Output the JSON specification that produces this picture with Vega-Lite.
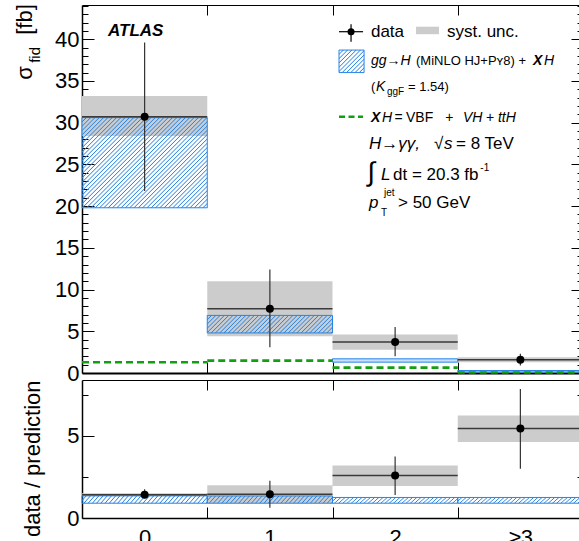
{
  "$schema": "https://vega.github.io/schema/vega-lite/v6.json",
  "background": "white",
  "padding": {"left": 14, "top": 4, "right": 0, "bottom": 0},
  "config": {"view": {"stroke": null}, "font": "Liberation Sans"},
  "bounds": "flush",
  "spacing": 7,
  "datasets": {
    "top": [
      {"bin": 0, "lo": -0.5, "hi": 0.5, "val": 30.7, "elo": 21.8, "ehi": 39.6, "slo": 28.4, "shi": 33.2, "plo": 19.8, "phi": 30.6, "xh": 1.28},
      {"bin": 1, "lo": 0.5, "hi": 1.5, "val": 7.7, "elo": 3.1, "ehi": 12.4, "slo": 4.4, "shi": 11.0, "plo": 4.8, "phi": 6.9, "xh": 1.48},
      {"bin": 2, "lo": 1.5, "hi": 2.5, "val": 3.7, "elo": 2.0, "ehi": 5.5, "slo": 2.8, "shi": 4.6, "plo": 1.3, "phi": 1.7, "xh": 0.64},
      {"bin": 3, "lo": 2.5, "hi": 3.5, "val": 1.6, "elo": 0.9, "ehi": 2.3, "slo": 1.3, "shi": 1.9, "plo": 0.12, "phi": 0.3, "xh": 0.06}
    ],
    "ratio": [
      {"bin": 0, "lo": -0.5, "hi": 0.5, "val": 1.42, "elo": 1.2, "ehi": 1.75, "slo": 1.32, "shi": 1.5, "plo": 0.9, "phi": 1.35},
      {"bin": 1, "lo": 0.5, "hi": 1.5, "val": 1.44, "elo": 0.63, "ehi": 2.26, "slo": 0.9, "shi": 2.0, "plo": 0.9, "phi": 1.34},
      {"bin": 2, "lo": 1.5, "hi": 2.5, "val": 2.58, "elo": 1.4, "ehi": 3.74, "slo": 1.95, "shi": 3.19, "plo": 0.9, "phi": 1.25},
      {"bin": 3, "lo": 2.5, "hi": 3.5, "val": 5.45, "elo": 3.0, "ehi": 7.85, "slo": 4.62, "shi": 6.24, "plo": 0.9, "phi": 1.25}
    ]
  },
  "vconcat": [
    {
      "width": 501,
      "height": 368,
      "resolve": {"axis": {"x": "independent", "y": "independent"}},
      "layer": [
        {
          "data": {"name": "top"},
          "mark": {"type": "rect", "color": "#cccccc"},
          "encoding": {
            "x": {"field": "lo", "type": "quantitative", "scale": {"domain": [-0.5, 3.5], "nice": false, "zero": false},
              "axis": {"orient": "bottom", "values": [0.5, 1.5, 2.5], "tickSize": -11, "labels": false, "title": null, "grid": false, "domainColor": "black", "domainWidth": 2, "tickColor": "black", "tickWidth": 1}},
            "x2": {"field": "hi"},
            "y": {"field": "slo", "type": "quantitative", "scale": {"domain": [0, 44.1], "nice": false, "zero": false},
              "axis": {"orient": "left", "values": [0,1,2,3,4,5,6,7,8,9,10,11,12,13,14,15,16,17,18,19,20,21,22,23,24,25,26,27,28,29,30,31,32,33,34,35,36,37,38,39,40,41,42,43,44],
                "tickSize": {"condition": {"test": "datum.value % 5 === 0", "value": -12}, "value": -6},
                "labelFontSize": {"condition": {"test": "datum.value % 5 === 0", "value": 22}, "value": 0},
                "labelExpr": "datum.value % 5 === 0 ? '' + datum.value : ''", "labelOverlap": false, "labelPadding": 15,
                "labelColor": "black", "labelFont": "Liberation Sans", "title": null, "grid": false,
                "domainColor": "black", "domainWidth": 1.5, "tickColor": "black", "tickWidth": 1}},
            "y2": {"field": "shi"}
          }
        },
        {
          "data": {"name": "top"},
          "transform": [{"filter": "datum.bin === 0"}],
          "mark": {"type": "rect", "strokeWidth": 0, "fill": {"gradient": "linear", "x1": 0, "y1": 0, "x2": 1.1331, "y2": 0.8151, "stops": [
            {"offset":0,"color":"#2684e6"},{"offset":0.005,"color":"rgba(38,132,230,0)"},{"offset":0.015,"color":"rgba(38,132,230,0)"},
            {"offset":0.02,"color":"#2684e6"},{"offset":0.025,"color":"rgba(38,132,230,0)"},{"offset":0.035,"color":"rgba(38,132,230,0)"},
            {"offset":0.04,"color":"#2684e6"},{"offset":0.045,"color":"rgba(38,132,230,0)"},{"offset":0.055,"color":"rgba(38,132,230,0)"},
            {"offset":0.06,"color":"#2684e6"},{"offset":0.065,"color":"rgba(38,132,230,0)"},{"offset":0.075,"color":"rgba(38,132,230,0)"},
            {"offset":0.08,"color":"#2684e6"},{"offset":0.085,"color":"rgba(38,132,230,0)"},{"offset":0.095,"color":"rgba(38,132,230,0)"},
            {"offset":0.1,"color":"#2684e6"},{"offset":0.105,"color":"rgba(38,132,230,0)"},{"offset":0.115,"color":"rgba(38,132,230,0)"},
            {"offset":0.12,"color":"#2684e6"},{"offset":0.125,"color":"rgba(38,132,230,0)"},{"offset":0.135,"color":"rgba(38,132,230,0)"},
            {"offset":0.14,"color":"#2684e6"},{"offset":0.145,"color":"rgba(38,132,230,0)"},{"offset":0.155,"color":"rgba(38,132,230,0)"},
            {"offset":0.16,"color":"#2684e6"},{"offset":0.165,"color":"rgba(38,132,230,0)"},{"offset":0.175,"color":"rgba(38,132,230,0)"},
            {"offset":0.18,"color":"#2684e6"},{"offset":0.185,"color":"rgba(38,132,230,0)"},{"offset":0.195,"color":"rgba(38,132,230,0)"},
            {"offset":0.2,"color":"#2684e6"},{"offset":0.205,"color":"rgba(38,132,230,0)"},{"offset":0.215,"color":"rgba(38,132,230,0)"},
            {"offset":0.22,"color":"#2684e6"},{"offset":0.225,"color":"rgba(38,132,230,0)"},{"offset":0.235,"color":"rgba(38,132,230,0)"},
            {"offset":0.24,"color":"#2684e6"},{"offset":0.245,"color":"rgba(38,132,230,0)"},{"offset":0.255,"color":"rgba(38,132,230,0)"},
            {"offset":0.26,"color":"#2684e6"},{"offset":0.265,"color":"rgba(38,132,230,0)"},{"offset":0.275,"color":"rgba(38,132,230,0)"},
            {"offset":0.28,"color":"#2684e6"},{"offset":0.285,"color":"rgba(38,132,230,0)"},{"offset":0.295,"color":"rgba(38,132,230,0)"},
            {"offset":0.3,"color":"#2684e6"},{"offset":0.305,"color":"rgba(38,132,230,0)"},{"offset":0.315,"color":"rgba(38,132,230,0)"},
            {"offset":0.32,"color":"#2684e6"},{"offset":0.325,"color":"rgba(38,132,230,0)"},{"offset":0.335,"color":"rgba(38,132,230,0)"},
            {"offset":0.34,"color":"#2684e6"},{"offset":0.345,"color":"rgba(38,132,230,0)"},{"offset":0.355,"color":"rgba(38,132,230,0)"},
            {"offset":0.36,"color":"#2684e6"},{"offset":0.365,"color":"rgba(38,132,230,0)"},{"offset":0.375,"color":"rgba(38,132,230,0)"},
            {"offset":0.38,"color":"#2684e6"},{"offset":0.385,"color":"rgba(38,132,230,0)"},{"offset":0.395,"color":"rgba(38,132,230,0)"},
            {"offset":0.4,"color":"#2684e6"},{"offset":0.405,"color":"rgba(38,132,230,0)"},{"offset":0.415,"color":"rgba(38,132,230,0)"},
            {"offset":0.42,"color":"#2684e6"},{"offset":0.425,"color":"rgba(38,132,230,0)"},{"offset":0.435,"color":"rgba(38,132,230,0)"},
            {"offset":0.44,"color":"#2684e6"},{"offset":0.445,"color":"rgba(38,132,230,0)"},{"offset":0.455,"color":"rgba(38,132,230,0)"},
            {"offset":0.46,"color":"#2684e6"},{"offset":0.465,"color":"rgba(38,132,230,0)"},{"offset":0.475,"color":"rgba(38,132,230,0)"},
            {"offset":0.48,"color":"#2684e6"},{"offset":0.485,"color":"rgba(38,132,230,0)"},{"offset":0.495,"color":"rgba(38,132,230,0)"},
            {"offset":0.5,"color":"#2684e6"},{"offset":0.505,"color":"rgba(38,132,230,0)"},{"offset":0.515,"color":"rgba(38,132,230,0)"},
            {"offset":0.52,"color":"#2684e6"},{"offset":0.525,"color":"rgba(38,132,230,0)"},{"offset":0.535,"color":"rgba(38,132,230,0)"},
            {"offset":0.54,"color":"#2684e6"},{"offset":0.545,"color":"rgba(38,132,230,0)"},{"offset":0.555,"color":"rgba(38,132,230,0)"},
            {"offset":0.56,"color":"#2684e6"},{"offset":0.565,"color":"rgba(38,132,230,0)"},{"offset":0.575,"color":"rgba(38,132,230,0)"},
            {"offset":0.58,"color":"#2684e6"},{"offset":0.585,"color":"rgba(38,132,230,0)"},{"offset":0.595,"color":"rgba(38,132,230,0)"},
            {"offset":0.6,"color":"#2684e6"},{"offset":0.605,"color":"rgba(38,132,230,0)"},{"offset":0.615,"color":"rgba(38,132,230,0)"},
            {"offset":0.62,"color":"#2684e6"},{"offset":0.625,"color":"rgba(38,132,230,0)"},{"offset":0.635,"color":"rgba(38,132,230,0)"},
            {"offset":0.64,"color":"#2684e6"},{"offset":0.645,"color":"rgba(38,132,230,0)"},{"offset":0.655,"color":"rgba(38,132,230,0)"},
            {"offset":0.66,"color":"#2684e6"},{"offset":0.665,"color":"rgba(38,132,230,0)"},{"offset":0.675,"color":"rgba(38,132,230,0)"},
            {"offset":0.68,"color":"#2684e6"},{"offset":0.685,"color":"rgba(38,132,230,0)"},{"offset":0.695,"color":"rgba(38,132,230,0)"},
            {"offset":0.7,"color":"#2684e6"},{"offset":0.705,"color":"rgba(38,132,230,0)"},{"offset":0.715,"color":"rgba(38,132,230,0)"},
            {"offset":0.72,"color":"#2684e6"},{"offset":0.725,"color":"rgba(38,132,230,0)"},{"offset":0.735,"color":"rgba(38,132,230,0)"},
            {"offset":0.74,"color":"#2684e6"},{"offset":0.745,"color":"rgba(38,132,230,0)"},{"offset":0.755,"color":"rgba(38,132,230,0)"},
            {"offset":0.76,"color":"#2684e6"},{"offset":0.765,"color":"rgba(38,132,230,0)"},{"offset":0.775,"color":"rgba(38,132,230,0)"},
            {"offset":0.78,"color":"#2684e6"},{"offset":0.785,"color":"rgba(38,132,230,0)"},{"offset":0.795,"color":"rgba(38,132,230,0)"},
            {"offset":0.8,"color":"#2684e6"},{"offset":0.805,"color":"rgba(38,132,230,0)"},{"offset":0.815,"color":"rgba(38,132,230,0)"},
            {"offset":0.82,"color":"#2684e6"},{"offset":0.825,"color":"rgba(38,132,230,0)"},{"offset":0.835,"color":"rgba(38,132,230,0)"},
            {"offset":0.84,"color":"#2684e6"},{"offset":0.845,"color":"rgba(38,132,230,0)"},{"offset":0.855,"color":"rgba(38,132,230,0)"},
            {"offset":0.86,"color":"#2684e6"},{"offset":0.865,"color":"rgba(38,132,230,0)"},{"offset":0.875,"color":"rgba(38,132,230,0)"},
            {"offset":0.88,"color":"#2684e6"},{"offset":0.885,"color":"rgba(38,132,230,0)"},{"offset":0.895,"color":"rgba(38,132,230,0)"},
            {"offset":0.9,"color":"#2684e6"},{"offset":0.905,"color":"rgba(38,132,230,0)"},{"offset":0.915,"color":"rgba(38,132,230,0)"},
            {"offset":0.92,"color":"#2684e6"},{"offset":0.925,"color":"rgba(38,132,230,0)"},{"offset":0.935,"color":"rgba(38,132,230,0)"},
            {"offset":0.94,"color":"#2684e6"},{"offset":0.945,"color":"rgba(38,132,230,0)"},{"offset":0.955,"color":"rgba(38,132,230,0)"},
            {"offset":0.96,"color":"#2684e6"},{"offset":0.965,"color":"rgba(38,132,230,0)"},{"offset":0.975,"color":"rgba(38,132,230,0)"},
            {"offset":0.98,"color":"#2684e6"},{"offset":0.985,"color":"rgba(38,132,230,0)"},{"offset":0.995,"color":"rgba(38,132,230,0)"},
            {"offset":1,"color":"#2684e6"}]}},
          "encoding": {
            "x": {"field": "lo", "type": "quantitative", "scale": {"domain": [-0.5, 3.5], "nice": false, "zero": false},
              "axis": {"orient": "top", "values": [0.5, 1.5, 2.5], "tickSize": -10, "labels": false, "title": null, "grid": false, "domainColor": "black", "domainWidth": 1, "tickColor": "black"}},
            "x2": {"field": "hi"},
            "y": {"field": "plo", "type": "quantitative", "scale": {"domain": [0, 44.1], "nice": false, "zero": false},
              "axis": {"orient": "right", "values": [0,1,2,3,4,5,6,7,8,9,10,11,12,13,14,15,16,17,18,19,20,21,22,23,24,25,26,27,28,29,30,31,32,33,34,35,36,37,38,39,40,41,42,43,44],
                "tickSize": {"condition": {"test": "datum.value % 5 === 0", "value": -12}, "value": -6},
                "labels": false, "title": null, "grid": false, "domain": false, "tickColor": "black"}},
            "y2": {"field": "phi"}
          }
        },
        {
          "data": {"name": "top"},
          "transform": [{"filter": "datum.bin === 1"}],
          "mark": {"type": "rect", "strokeWidth": 0, "fill": {"gradient": "linear", "x1": 0, "y1": 0, "x2": 1.1179, "y2": 0.1562, "stops": [
            {"offset":0,"color":"#2684e6"},{"offset":0.0075,"color":"rgba(38,132,230,0)"},{"offset":0.0225,"color":"rgba(38,132,230,0)"},
            {"offset":0.03,"color":"#2684e6"},{"offset":0.0375,"color":"rgba(38,132,230,0)"},{"offset":0.0525,"color":"rgba(38,132,230,0)"},
            {"offset":0.06,"color":"#2684e6"},{"offset":0.0675,"color":"rgba(38,132,230,0)"},{"offset":0.0825,"color":"rgba(38,132,230,0)"},
            {"offset":0.09,"color":"#2684e6"},{"offset":0.0975,"color":"rgba(38,132,230,0)"},{"offset":0.1125,"color":"rgba(38,132,230,0)"},
            {"offset":0.12,"color":"#2684e6"},{"offset":0.1275,"color":"rgba(38,132,230,0)"},{"offset":0.1425,"color":"rgba(38,132,230,0)"},
            {"offset":0.15,"color":"#2684e6"},{"offset":0.1575,"color":"rgba(38,132,230,0)"},{"offset":0.1725,"color":"rgba(38,132,230,0)"},
            {"offset":0.18,"color":"#2684e6"},{"offset":0.1875,"color":"rgba(38,132,230,0)"},{"offset":0.2025,"color":"rgba(38,132,230,0)"},
            {"offset":0.21,"color":"#2684e6"},{"offset":0.2175,"color":"rgba(38,132,230,0)"},{"offset":0.2325,"color":"rgba(38,132,230,0)"},
            {"offset":0.24,"color":"#2684e6"},{"offset":0.2475,"color":"rgba(38,132,230,0)"},{"offset":0.2625,"color":"rgba(38,132,230,0)"},
            {"offset":0.27,"color":"#2684e6"},{"offset":0.2775,"color":"rgba(38,132,230,0)"},{"offset":0.2925,"color":"rgba(38,132,230,0)"},
            {"offset":0.3,"color":"#2684e6"},{"offset":0.3075,"color":"rgba(38,132,230,0)"},{"offset":0.3225,"color":"rgba(38,132,230,0)"},
            {"offset":0.33,"color":"#2684e6"},{"offset":0.3375,"color":"rgba(38,132,230,0)"},{"offset":0.3525,"color":"rgba(38,132,230,0)"},
            {"offset":0.36,"color":"#2684e6"},{"offset":0.3675,"color":"rgba(38,132,230,0)"},{"offset":0.3825,"color":"rgba(38,132,230,0)"},
            {"offset":0.39,"color":"#2684e6"},{"offset":0.3975,"color":"rgba(38,132,230,0)"},{"offset":0.4125,"color":"rgba(38,132,230,0)"},
            {"offset":0.42,"color":"#2684e6"},{"offset":0.4275,"color":"rgba(38,132,230,0)"},{"offset":0.4425,"color":"rgba(38,132,230,0)"},
            {"offset":0.45,"color":"#2684e6"},{"offset":0.4575,"color":"rgba(38,132,230,0)"},{"offset":0.4725,"color":"rgba(38,132,230,0)"},
            {"offset":0.48,"color":"#2684e6"},{"offset":0.4875,"color":"rgba(38,132,230,0)"},{"offset":0.5025,"color":"rgba(38,132,230,0)"},
            {"offset":0.51,"color":"#2684e6"},{"offset":0.5175,"color":"rgba(38,132,230,0)"},{"offset":0.5325,"color":"rgba(38,132,230,0)"},
            {"offset":0.54,"color":"#2684e6"},{"offset":0.5475,"color":"rgba(38,132,230,0)"},{"offset":0.5625,"color":"rgba(38,132,230,0)"},
            {"offset":0.57,"color":"#2684e6"},{"offset":0.5775,"color":"rgba(38,132,230,0)"},{"offset":0.5925,"color":"rgba(38,132,230,0)"},
            {"offset":0.6,"color":"#2684e6"},{"offset":0.6075,"color":"rgba(38,132,230,0)"},{"offset":0.6225,"color":"rgba(38,132,230,0)"},
            {"offset":0.63,"color":"#2684e6"},{"offset":0.6375,"color":"rgba(38,132,230,0)"},{"offset":0.6525,"color":"rgba(38,132,230,0)"},
            {"offset":0.66,"color":"#2684e6"},{"offset":0.6675,"color":"rgba(38,132,230,0)"},{"offset":0.6825,"color":"rgba(38,132,230,0)"},
            {"offset":0.69,"color":"#2684e6"},{"offset":0.6975,"color":"rgba(38,132,230,0)"},{"offset":0.7125,"color":"rgba(38,132,230,0)"},
            {"offset":0.72,"color":"#2684e6"},{"offset":0.7275,"color":"rgba(38,132,230,0)"},{"offset":0.7425,"color":"rgba(38,132,230,0)"},
            {"offset":0.75,"color":"#2684e6"},{"offset":0.7575,"color":"rgba(38,132,230,0)"},{"offset":0.7725,"color":"rgba(38,132,230,0)"},
            {"offset":0.78,"color":"#2684e6"},{"offset":0.7875,"color":"rgba(38,132,230,0)"},{"offset":0.8025,"color":"rgba(38,132,230,0)"},
            {"offset":0.81,"color":"#2684e6"},{"offset":0.8175,"color":"rgba(38,132,230,0)"},{"offset":0.8325,"color":"rgba(38,132,230,0)"},
            {"offset":0.84,"color":"#2684e6"},{"offset":0.8475,"color":"rgba(38,132,230,0)"},{"offset":0.8625,"color":"rgba(38,132,230,0)"},
            {"offset":0.87,"color":"#2684e6"},{"offset":0.8775,"color":"rgba(38,132,230,0)"},{"offset":0.8925,"color":"rgba(38,132,230,0)"},
            {"offset":0.9,"color":"#2684e6"},{"offset":0.9075,"color":"rgba(38,132,230,0)"},{"offset":0.9225,"color":"rgba(38,132,230,0)"},
            {"offset":0.93,"color":"#2684e6"},{"offset":0.9375,"color":"rgba(38,132,230,0)"},{"offset":0.9525,"color":"rgba(38,132,230,0)"},
            {"offset":0.96,"color":"#2684e6"},{"offset":0.9675,"color":"rgba(38,132,230,0)"},{"offset":0.9825,"color":"rgba(38,132,230,0)"},
            {"offset":0.99,"color":"#2684e6"},{"offset":0.9975,"color":"rgba(38,132,230,0)"}]}},
          "encoding": {
            "x": {"field": "lo", "type": "quantitative", "axis": null},
            "x2": {"field": "hi"},
            "y": {"field": "plo", "type": "quantitative", "axis": null},
            "y2": {"field": "phi"}
          }
        },
        {
          "data": {"name": "top"},
          "transform": [{"filter": "datum.bin >= 2"}],
          "mark": {"type": "rect", "fill": "#2684e6", "fillOpacity": 0.25, "strokeWidth": 0},
          "encoding": {
            "x": {"field": "lo", "type": "quantitative", "axis": null},
            "x2": {"field": "hi"},
            "y": {"field": "plo", "type": "quantitative", "axis": null},
            "y2": {"field": "phi"}
          }
        },
        {
          "data": {"name": "top"},
          "mark": {"type": "rect", "fill": null, "stroke": "#2684e6", "strokeWidth": 1},
          "encoding": {
            "x": {"field": "lo", "type": "quantitative", "axis": null},
            "x2": {"field": "hi"},
            "y": {"field": "plo", "type": "quantitative", "axis": null},
            "y2": {"field": "phi"}
          }
        },
        {
          "data": {"name": "top"},
          "mark": {"type": "rule", "color": "#12a012", "strokeWidth": 2.6, "strokeDash": [7, 4]},
          "encoding": {
            "x": {"field": "lo", "type": "quantitative", "axis": null},
            "x2": {"field": "hi"},
            "y": {"field": "xh", "type": "quantitative", "axis": null}
          }
        },
        {
          "data": {"name": "top"},
          "mark": {"type": "rule", "color": "#3a3a3a", "strokeWidth": 1.5},
          "encoding": {
            "x": {"field": "lo", "type": "quantitative", "axis": null},
            "x2": {"field": "hi"},
            "y": {"field": "val", "type": "quantitative", "axis": null}
          }
        },
        {
          "data": {"name": "top"},
          "mark": {"type": "rule", "color": "#333333", "strokeWidth": 1.2},
          "encoding": {
            "x": {"field": "bin", "type": "quantitative", "axis": null},
            "y": {"field": "elo", "type": "quantitative", "axis": null},
            "y2": {"field": "ehi"}
          }
        },
        {
          "data": {"name": "top"},
          "mark": {"type": "point", "filled": true, "color": "black", "size": 64, "opacity": 1},
          "encoding": {
            "x": {"field": "bin", "type": "quantitative", "axis": null},
            "y": {"field": "val", "type": "quantitative", "axis": null}
          }
        },
        {
          "data": {"values": [{"x": 2.167, "x2": 2.35, "y": 40.6, "y2": 41.5}]},
          "mark": {"type": "rect", "color": "#cccccc"},
          "encoding": {
            "x": {"field": "x", "type": "quantitative", "axis": null}, "x2": {"field": "x2"},
            "y": {"field": "y", "type": "quantitative", "axis": null}, "y2": {"field": "y2"}
          }
        },
        {
          "data": {"values": [{"x": 1.552, "x2": 1.752, "y": 36.0, "y2": 38.7}]},
          "mark": {"type": "rect", "stroke": "#2684e6", "strokeWidth": 1, "fill": {"gradient": "linear", "x1": 0, "y1": 0, "x2": 1.0506, "y2": 0.9436, "stops": [
            {"offset":0,"color":"#2684e6"},{"offset":0.0225,"color":"rgba(38,132,230,0)"},{"offset":0.0675,"color":"rgba(38,132,230,0)"},
            {"offset":0.09,"color":"#2684e6"},{"offset":0.1125,"color":"rgba(38,132,230,0)"},{"offset":0.1575,"color":"rgba(38,132,230,0)"},
            {"offset":0.18,"color":"#2684e6"},{"offset":0.2025,"color":"rgba(38,132,230,0)"},{"offset":0.2475,"color":"rgba(38,132,230,0)"},
            {"offset":0.27,"color":"#2684e6"},{"offset":0.2925,"color":"rgba(38,132,230,0)"},{"offset":0.3375,"color":"rgba(38,132,230,0)"},
            {"offset":0.36,"color":"#2684e6"},{"offset":0.3825,"color":"rgba(38,132,230,0)"},{"offset":0.4275,"color":"rgba(38,132,230,0)"},
            {"offset":0.45,"color":"#2684e6"},{"offset":0.4725,"color":"rgba(38,132,230,0)"},{"offset":0.5175,"color":"rgba(38,132,230,0)"},
            {"offset":0.54,"color":"#2684e6"},{"offset":0.5625,"color":"rgba(38,132,230,0)"},{"offset":0.6075,"color":"rgba(38,132,230,0)"},
            {"offset":0.63,"color":"#2684e6"},{"offset":0.6525,"color":"rgba(38,132,230,0)"},{"offset":0.6975,"color":"rgba(38,132,230,0)"},
            {"offset":0.72,"color":"#2684e6"},{"offset":0.7425,"color":"rgba(38,132,230,0)"},{"offset":0.7875,"color":"rgba(38,132,230,0)"},
            {"offset":0.81,"color":"#2684e6"},{"offset":0.8325,"color":"rgba(38,132,230,0)"},{"offset":0.8775,"color":"rgba(38,132,230,0)"},
            {"offset":0.9,"color":"#2684e6"},{"offset":0.9225,"color":"rgba(38,132,230,0)"},{"offset":0.9675,"color":"rgba(38,132,230,0)"},
            {"offset":0.99,"color":"#2684e6"},{"offset":1,"color":"rgba(38,132,230,0)"}]}},
          "encoding": {
            "x": {"field": "x", "type": "quantitative", "axis": null}, "x2": {"field": "x2"},
            "y": {"field": "y", "type": "quantitative", "axis": null}, "y2": {"field": "y2"}
          }
        },
        {
          "data": {"values": [{"x": 1.552, "x2": 1.744, "y": 30.7}]},
          "mark": {"type": "rule", "color": "#12a012", "strokeWidth": 2.6, "strokeDash": [6, 3.5]},
          "encoding": {
            "x": {"field": "x", "type": "quantitative", "axis": null}, "x2": {"field": "x2"},
            "y": {"field": "y", "type": "quantitative", "axis": null}
          }
        },
        {
          "data": {"values": [{"x": 1.552, "x2": 1.744, "y": 40.9, "y2": 40.9}, {"x": 1.648, "x2": 1.648, "y": 39.7, "y2": 41.8}]},
          "mark": {"type": "rule", "color": "black", "strokeWidth": 1.2},
          "encoding": {
            "x": {"field": "x", "type": "quantitative", "axis": null}, "x2": {"field": "x2"},
            "y": {"field": "y", "type": "quantitative", "axis": null}, "y2": {"field": "y2"}
          }
        },
        {
          "data": {"values": [{"x": 1.648, "y": 40.9}]},
          "mark": {"type": "point", "filled": true, "color": "black", "size": 50, "opacity": 1},
          "encoding": {
            "x": {"field": "x", "type": "quantitative", "axis": null},
            "y": {"field": "y", "type": "quantitative", "axis": null}
          }
        },
        {
          "data": {"values": [{"x": -0.292, "y": 41.0, "t": "ATLAS"}]},
          "mark": {"type": "text", "align": "left", "baseline": "middle", "fontSize": 17, "fontStyle": "italic", "fontWeight": "bold", "color": "black"},
          "encoding": {
            "x": {"field": "x", "type": "quantitative", "axis": null},
            "y": {"field": "y", "type": "quantitative", "axis": null},
            "text": {"field": "t"}
          }
        },
        {
          "data": {"values": [
            {"x": 1.807, "y": 40.9, "t": "data"},
            {"x": 2.414, "y": 40.9, "t": "syst. unc."},
            {"x": 2.31, "y": 27.46, "t": "√"},
            {"x": 2.486, "y": 27.46, "t": "= 8 TeV"},
            {"x": 1.983, "y": 23.74, "t": "dt = 20.3 fb"},
            {"x": 2.023, "y": 20.38, "t": "> 50 GeV"}
          ]},
          "mark": {"type": "text", "align": "left", "baseline": "middle", "fontSize": 17, "color": "black"},
          "encoding": {
            "x": {"field": "x", "type": "quantitative", "axis": null},
            "y": {"field": "y", "type": "quantitative", "axis": null},
            "text": {"field": "t"}
          }
        },
        {
          "data": {"values": [
            {"x": 1.791, "y": 27.46, "t": "H→γγ,"},
            {"x": 2.39, "y": 27.46, "t": "s"},
            {"x": 1.887, "y": 23.74, "t": "L"},
            {"x": 1.791, "y": 20.38, "t": "p"}
          ]},
          "mark": {"type": "text", "align": "left", "baseline": "middle", "fontSize": 17, "fontStyle": "italic", "color": "black"},
          "encoding": {
            "x": {"field": "x", "type": "quantitative", "axis": null},
            "y": {"field": "y", "type": "quantitative", "axis": null},
            "text": {"field": "t"}
          }
        },
        {
          "data": {"values": [{"x": 1.78, "y": 23.98, "t": "∫"}]},
          "mark": {"type": "text", "align": "left", "baseline": "middle", "fontSize": 27, "color": "black"},
          "encoding": {
            "x": {"field": "x", "type": "quantitative", "axis": null},
            "y": {"field": "y", "type": "quantitative", "axis": null},
            "text": {"field": "t"}
          }
        },
        {
          "data": {"values": [
            {"x": 2.167, "y": 37.33, "t": "(MiNLO HJ+Pʏ8) +"},
            {"x": 1.807, "y": 34.33, "t": "("},
            {"x": 2.103, "y": 34.33, "t": "= 1.54)"}
          ]},
          "mark": {"type": "text", "align": "left", "baseline": "middle", "fontSize": 13, "color": "black"},
          "encoding": {
            "x": {"field": "x", "type": "quantitative", "axis": null},
            "y": {"field": "y", "type": "quantitative", "axis": null},
            "text": {"field": "t"}
          }
        },
        {
          "data": {"values": [
            {"x": 1.995, "y": 30.58, "t": "="},
            {"x": 2.087, "y": 30.58, "t": "VBF"},
            {"x": 2.40, "y": 30.58, "t": "+"},
            {"x": 2.726, "y": 30.58, "t": "+"}
          ]},
          "mark": {"type": "text", "align": "left", "baseline": "middle", "fontSize": 14, "color": "black"},
          "encoding": {
            "x": {"field": "x", "type": "quantitative", "axis": null},
            "y": {"field": "y", "type": "quantitative", "axis": null},
            "text": {"field": "t"}
          }
        },
        {
          "data": {"values": [
            {"x": 1.807, "y": 37.33, "t": "gg→H"},
            {"x": 3.189, "y": 37.33, "t": "H"},
            {"x": 1.847, "y": 34.33, "t": "K"},
            {"x": 1.895, "y": 30.58, "t": "H"},
            {"x": 2.542, "y": 30.58, "t": "VH"},
            {"x": 2.821, "y": 30.58, "t": "ttH"}
          ]},
          "mark": {"type": "text", "align": "left", "baseline": "middle", "fontSize": 14, "fontStyle": "italic", "color": "black"},
          "encoding": {
            "x": {"field": "x", "type": "quantitative", "axis": null},
            "y": {"field": "y", "type": "quantitative", "axis": null},
            "text": {"field": "t"}
          }
        },
        {
          "data": {"values": [
            {"x": 3.101, "y": 37.33, "t": "X"},
            {"x": 1.807, "y": 30.58, "t": "X"}
          ]},
          "mark": {"type": "text", "align": "left", "baseline": "middle", "fontSize": 14, "fontStyle": "italic", "fontWeight": "bold", "color": "black"},
          "encoding": {
            "x": {"field": "x", "type": "quantitative", "axis": null},
            "y": {"field": "y", "type": "quantitative", "axis": null},
            "text": {"field": "t"}
          }
        },
        {
          "data": {"values": [
            {"x": 1.935, "y": 33.7, "t": "ggF"},
            {"x": 2.68, "y": 24.58, "t": "-1"},
            {"x": 1.911, "y": 21.58, "t": "jet"},
            {"x": 1.887, "y": 19.18, "t": "T"}
          ]},
          "mark": {"type": "text", "align": "left", "baseline": "middle", "fontSize": 10, "color": "black"},
          "encoding": {
            "x": {"field": "x", "type": "quantitative", "axis": null},
            "y": {"field": "y", "type": "quantitative", "axis": null},
            "text": {"field": "t"}
          }
        },
        {
          "data": {"values": [
            {"x": -0.899, "y": 35.13, "t": "σ"},
            {"x": -0.899, "y": 40.53, "t": "[fb]"}
          ]},
          "mark": {"type": "text", "align": "left", "baseline": "alphabetic", "angle": 270, "fontSize": 22, "color": "black"},
          "encoding": {
            "x": {"field": "x", "type": "quantitative", "axis": null},
            "y": {"field": "y", "type": "quantitative", "axis": null},
            "text": {"field": "t"}
          }
        },
        {
          "data": {"values": [{"x": -0.835, "y": 37.17, "t": "fid"}]},
          "mark": {"type": "text", "align": "left", "baseline": "alphabetic", "angle": 270, "fontSize": 15, "color": "black"},
          "encoding": {
            "x": {"field": "x", "type": "quantitative", "axis": null},
            "y": {"field": "y", "type": "quantitative", "axis": null},
            "text": {"field": "t"}
          }
        }
      ]
    },
    {
      "width": 501,
      "height": 138,
      "resolve": {"axis": {"x": "independent", "y": "independent"}},
      "layer": [
        {
          "data": {"name": "ratio"},
          "mark": {"type": "rect", "color": "#cccccc"},
          "encoding": {
            "x": {"field": "lo", "type": "quantitative", "scale": {"domain": [-0.5, 3.5], "nice": false, "zero": false},
              "axis": {"orient": "bottom", "values": [0, 0.5, 1, 1.5, 2, 2.5, 3],
                "tickSize": {"condition": {"test": "datum.value % 1 !== 0", "value": -11}, "value": 0},
                "labelFontSize": {"condition": {"test": "datum.value % 1 === 0", "value": 22}, "value": 0},
                "labelExpr": "datum.value % 1 !== 0 ? '' : (datum.value === 3 ? '≥3' : '' + datum.value)",
                "labelOverlap": false, "labelPadding": 9, "labelColor": "black", "labelFont": "Liberation Sans",
                "title": null, "grid": false, "domainColor": "black", "domainWidth": 1.5, "tickColor": "black"}},
            "x2": {"field": "hi"},
            "y": {"field": "slo", "type": "quantitative", "scale": {"domain": [0, 8.4], "nice": false, "zero": false},
              "axis": {"orient": "left", "values": [0, 2.5, 5, 7.5],
                "tickSize": {"condition": {"test": "datum.value % 5 === 0", "value": -12}, "value": -6},
                "labelFontSize": {"condition": {"test": "datum.value % 5 === 0", "value": 22}, "value": 0},
                "labelExpr": "datum.value % 5 === 0 ? '' + datum.value : ''", "labelOverlap": false, "labelPadding": 15,
                "labelColor": "black", "labelFont": "Liberation Sans",
                "title": "data / prediction", "titleFontSize": 22, "titleFontWeight": "normal", "titleColor": "black", "titleFont": "Liberation Sans",
                "titleAnchor": "end", "titlePadding": 22, "grid": false,
                "domainColor": "black", "domainWidth": 1.5, "tickColor": "black"}},
            "y2": {"field": "shi"}
          }
        },
        {
          "data": {"name": "ratio"},
          "mark": {"type": "rect", "stroke": "#2684e6", "strokeWidth": 1, "fill": {"gradient": "linear", "x1": 0, "y1": 0, "x2": 1.0491, "y2": 0.0544, "stops": [
            {"offset":0,"color":"#2684e6"},{"offset":0.008,"color":"rgba(38,132,230,0)"},{"offset":0.024,"color":"rgba(38,132,230,0)"},
            {"offset":0.032,"color":"#2684e6"},{"offset":0.04,"color":"rgba(38,132,230,0)"},{"offset":0.056,"color":"rgba(38,132,230,0)"},
            {"offset":0.064,"color":"#2684e6"},{"offset":0.072,"color":"rgba(38,132,230,0)"},{"offset":0.088,"color":"rgba(38,132,230,0)"},
            {"offset":0.096,"color":"#2684e6"},{"offset":0.104,"color":"rgba(38,132,230,0)"},{"offset":0.12,"color":"rgba(38,132,230,0)"},
            {"offset":0.128,"color":"#2684e6"},{"offset":0.136,"color":"rgba(38,132,230,0)"},{"offset":0.152,"color":"rgba(38,132,230,0)"},
            {"offset":0.16,"color":"#2684e6"},{"offset":0.168,"color":"rgba(38,132,230,0)"},{"offset":0.184,"color":"rgba(38,132,230,0)"},
            {"offset":0.192,"color":"#2684e6"},{"offset":0.2,"color":"rgba(38,132,230,0)"},{"offset":0.216,"color":"rgba(38,132,230,0)"},
            {"offset":0.224,"color":"#2684e6"},{"offset":0.232,"color":"rgba(38,132,230,0)"},{"offset":0.248,"color":"rgba(38,132,230,0)"},
            {"offset":0.256,"color":"#2684e6"},{"offset":0.264,"color":"rgba(38,132,230,0)"},{"offset":0.28,"color":"rgba(38,132,230,0)"},
            {"offset":0.288,"color":"#2684e6"},{"offset":0.296,"color":"rgba(38,132,230,0)"},{"offset":0.312,"color":"rgba(38,132,230,0)"},
            {"offset":0.32,"color":"#2684e6"},{"offset":0.328,"color":"rgba(38,132,230,0)"},{"offset":0.344,"color":"rgba(38,132,230,0)"},
            {"offset":0.352,"color":"#2684e6"},{"offset":0.36,"color":"rgba(38,132,230,0)"},{"offset":0.376,"color":"rgba(38,132,230,0)"},
            {"offset":0.384,"color":"#2684e6"},{"offset":0.392,"color":"rgba(38,132,230,0)"},{"offset":0.408,"color":"rgba(38,132,230,0)"},
            {"offset":0.416,"color":"#2684e6"},{"offset":0.424,"color":"rgba(38,132,230,0)"},{"offset":0.44,"color":"rgba(38,132,230,0)"},
            {"offset":0.448,"color":"#2684e6"},{"offset":0.456,"color":"rgba(38,132,230,0)"},{"offset":0.472,"color":"rgba(38,132,230,0)"},
            {"offset":0.48,"color":"#2684e6"},{"offset":0.488,"color":"rgba(38,132,230,0)"},{"offset":0.504,"color":"rgba(38,132,230,0)"},
            {"offset":0.512,"color":"#2684e6"},{"offset":0.52,"color":"rgba(38,132,230,0)"},{"offset":0.536,"color":"rgba(38,132,230,0)"},
            {"offset":0.544,"color":"#2684e6"},{"offset":0.552,"color":"rgba(38,132,230,0)"},{"offset":0.568,"color":"rgba(38,132,230,0)"},
            {"offset":0.576,"color":"#2684e6"},{"offset":0.584,"color":"rgba(38,132,230,0)"},{"offset":0.6,"color":"rgba(38,132,230,0)"},
            {"offset":0.608,"color":"#2684e6"},{"offset":0.616,"color":"rgba(38,132,230,0)"},{"offset":0.632,"color":"rgba(38,132,230,0)"},
            {"offset":0.64,"color":"#2684e6"},{"offset":0.648,"color":"rgba(38,132,230,0)"},{"offset":0.664,"color":"rgba(38,132,230,0)"},
            {"offset":0.672,"color":"#2684e6"},{"offset":0.68,"color":"rgba(38,132,230,0)"},{"offset":0.696,"color":"rgba(38,132,230,0)"},
            {"offset":0.704,"color":"#2684e6"},{"offset":0.712,"color":"rgba(38,132,230,0)"},{"offset":0.728,"color":"rgba(38,132,230,0)"},
            {"offset":0.736,"color":"#2684e6"},{"offset":0.744,"color":"rgba(38,132,230,0)"},{"offset":0.76,"color":"rgba(38,132,230,0)"},
            {"offset":0.768,"color":"#2684e6"},{"offset":0.776,"color":"rgba(38,132,230,0)"},{"offset":0.792,"color":"rgba(38,132,230,0)"},
            {"offset":0.8,"color":"#2684e6"},{"offset":0.808,"color":"rgba(38,132,230,0)"},{"offset":0.824,"color":"rgba(38,132,230,0)"},
            {"offset":0.832,"color":"#2684e6"},{"offset":0.84,"color":"rgba(38,132,230,0)"},{"offset":0.856,"color":"rgba(38,132,230,0)"},
            {"offset":0.864,"color":"#2684e6"},{"offset":0.872,"color":"rgba(38,132,230,0)"},{"offset":0.888,"color":"rgba(38,132,230,0)"},
            {"offset":0.896,"color":"#2684e6"},{"offset":0.904,"color":"rgba(38,132,230,0)"},{"offset":0.92,"color":"rgba(38,132,230,0)"},
            {"offset":0.928,"color":"#2684e6"},{"offset":0.936,"color":"rgba(38,132,230,0)"},{"offset":0.952,"color":"rgba(38,132,230,0)"},
            {"offset":0.96,"color":"#2684e6"},{"offset":0.968,"color":"rgba(38,132,230,0)"},{"offset":0.984,"color":"rgba(38,132,230,0)"},
            {"offset":0.992,"color":"#2684e6"},{"offset":1,"color":"rgba(38,132,230,0)"}]}},
          "encoding": {
            "x": {"field": "lo", "type": "quantitative", "scale": {"domain": [-0.5, 3.5], "nice": false, "zero": false},
              "axis": {"orient": "top", "values": [0.5, 1.5, 2.5], "tickSize": -10, "labels": false, "title": null, "grid": false, "domainColor": "black", "domainWidth": 1, "tickColor": "black"}},
            "x2": {"field": "hi"},
            "y": {"field": "plo", "type": "quantitative", "scale": {"domain": [0, 8.4], "nice": false, "zero": false},
              "axis": {"orient": "right", "values": [0, 2.5, 5, 7.5],
                "tickSize": {"condition": {"test": "datum.value % 5 === 0", "value": -12}, "value": -6},
                "labels": false, "title": null, "grid": false, "domain": false, "tickColor": "black"}},
            "y2": {"field": "phi"}
          }
        },
        {
          "data": {"name": "ratio"},
          "mark": {"type": "rule", "color": "#3a3a3a", "strokeWidth": 1.5},
          "encoding": {
            "x": {"field": "lo", "type": "quantitative", "axis": null},
            "x2": {"field": "hi"},
            "y": {"field": "val", "type": "quantitative", "axis": null}
          }
        },
        {
          "data": {"name": "ratio"},
          "mark": {"type": "rule", "color": "#333333", "strokeWidth": 1.2},
          "encoding": {
            "x": {"field": "bin", "type": "quantitative", "axis": null},
            "y": {"field": "elo", "type": "quantitative", "axis": null},
            "y2": {"field": "ehi"}
          }
        },
        {
          "data": {"name": "ratio"},
          "mark": {"type": "point", "filled": true, "color": "black", "size": 64, "opacity": 1},
          "encoding": {
            "x": {"field": "bin", "type": "quantitative", "axis": null},
            "y": {"field": "val", "type": "quantitative", "axis": null}
          }
        }
      ]
    }
  ]
}
